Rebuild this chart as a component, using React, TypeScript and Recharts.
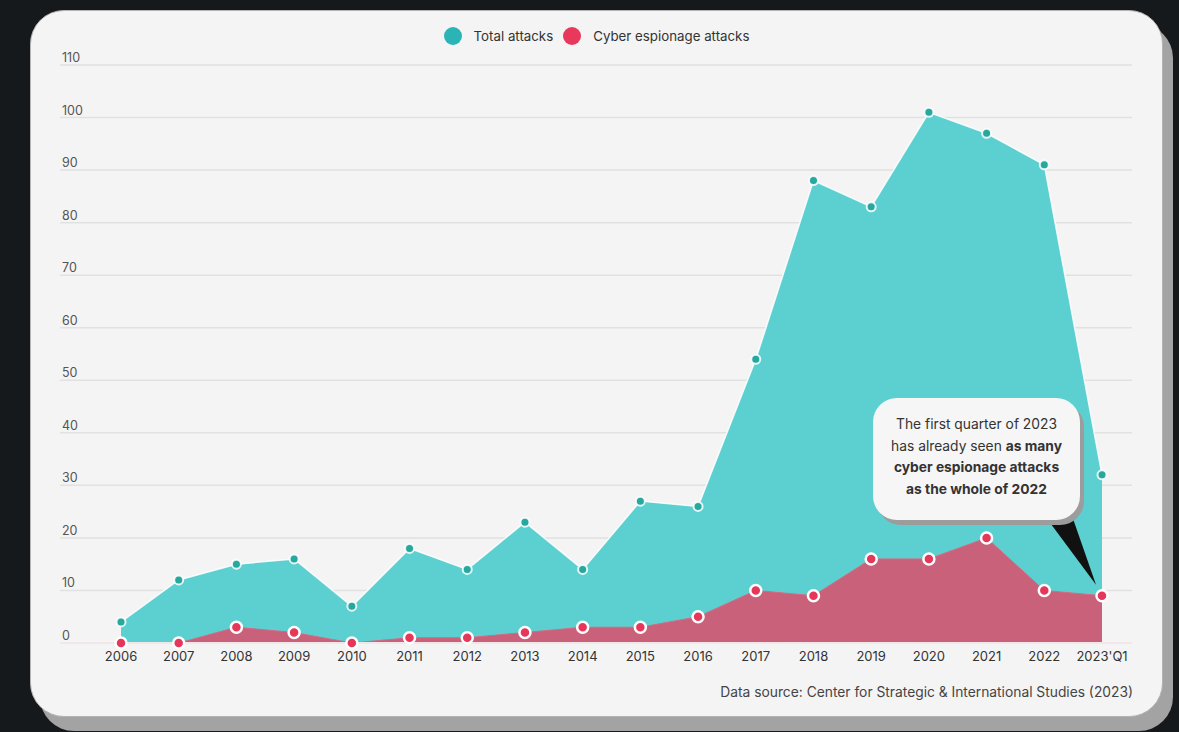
import React from 'react';
import { AreaChart, Area, XAxis, YAxis, CartesianGrid, ReferenceDot } from 'recharts';

const years = ['2006', '2007', '2008', '2009', '2010', '2011', '2012', '2013', '2014', '2015', '2016', '2017', '2018', '2019', '2020', '2021', '2022', "2023'Q1"];
const totalAttacks = [4, 12, 15, 16, 7, 18, 14, 23, 14, 27, 26, 54, 88, 83, 101, 97, 91, 32];
const espionageAttacks = [0, 0, 3, 2, 0, 1, 1, 2, 3, 3, 5, 10, 9, 16, 16, 20, 10, 9];
const yTicks = [0, 10, 20, 30, 40, 50, 60, 70, 80, 90, 100, 110];

const seriesNames = ['Total attacks', 'Cyber espionage attacks'];
const legendColors = ['#2bb4b6', '#e8385b'];

const data = years.map((year, i) => ({
  year,
  total: totalAttacks[i],
  espionage: espionageAttacks[i],
}));

const FONT = 'Inter, "Noto Sans", Arial, sans-serif';

const YTick = (props: any) => {
  const { y, payload } = props;
  return (
    <text x={62} y={y - 3} fill="#555" fontSize={12.5} fontFamily={FONT} textAnchor="start">
      {payload.value}
    </text>
  );
};

const Pointer = (props: any) => {
  const { cx, cy } = props;
  if (cx == null || cy == null) return null;
  return (
    <polygon
      points={`${cx - 52},${cy - 73} ${cx - 29},${cy - 77} ${cx - 6},${cy - 11}`}
      fill="#111"
    />
  );
};

export default function App() {
  return (
    <div
      style={{
        position: 'absolute',
        left: 0,
        top: 0,
        width: 1179,
        height: 732,
        background: '#16191c',
        overflow: 'hidden',
        fontFamily: FONT,
      }}
    >
      <div
        style={{
          position: 'absolute',
          left: 30,
          top: 10,
          width: 1133,
          height: 707,
          boxSizing: 'border-box',
          borderRadius: 34,
          background: '#f4f4f4',
          border: '1.5px solid #b3b3b3',
          boxShadow: '10px 14px 0 #a3a3a3',
        }}
      >
        <div
          style={{
            position: 'absolute',
            top: 16,
            left: 0,
            right: 0,
            display: 'flex',
            justifyContent: 'center',
            alignItems: 'center',
            fontSize: 13.3,
            color: '#333',
          }}
        >
          {seriesNames.map((name, i) => (
            <div key={name} style={{ display: 'flex', alignItems: 'center', marginRight: i === 0 ? 10 : 0 }}>
              <span
                style={{
                  display: 'inline-block',
                  width: 18,
                  height: 18,
                  borderRadius: 9,
                  background: legendColors[i],
                  marginRight: 12,
                }}
              />
              <span>{name}</span>
            </div>
          ))}
        </div>
      </div>

      <div style={{ position: 'absolute', left: 0, top: 0 }}>
        <AreaChart
          width={1179}
          height={732}
          data={data}
          margin={{ top: 65, right: 47, bottom: 59, left: 0 }}
        >
          <CartesianGrid vertical={false} stroke="#e1e1e1" strokeWidth={1.5} />
          <XAxis
            dataKey="year"
            height={30}
            interval={0}
            padding={{ left: 61, right: 30 }}
            axisLine={{ stroke: '#f3e6e9', strokeWidth: 2 }}
            tickLine={false}
            tickMargin={3}
            tick={{ fill: '#333', fontSize: 13, fontFamily: FONT }}
          />
          <YAxis
            width={60}
            domain={[0, 110]}
            ticks={yTicks}
            axisLine={false}
            tickLine={false}
            tick={<YTick />}
          />
          <Area
            type="linear"
            dataKey="total"
            fill="#5ccfd0"
            fillOpacity={1}
            stroke="#ffffff"
            strokeOpacity={0.85}
            strokeWidth={1.5}
            dot={{ r: 4.5, fill: '#27a89f', stroke: '#ffffff', strokeWidth: 2 }}
            activeDot={false}
            isAnimationActive={false}
          />
          <Area
            type="linear"
            dataKey="espionage"
            fill="#c9617a"
            fillOpacity={1}
            stroke="#d46a83"
            strokeWidth={1}
            dot={{ r: 5.5, fill: '#e6375a', stroke: '#ffffff', strokeWidth: 2.5, fillOpacity: 1 }}
            activeDot={false}
            isAnimationActive={false}
          />
          <ReferenceDot
            x={years[years.length - 1]}
            y={espionageAttacks[espionageAttacks.length - 1]}
            r={0}
            ifOverflow="visible"
            shape={<Pointer />}
          />
        </AreaChart>
      </div>

      <div
        style={{
          position: 'absolute',
          left: 873,
          top: 398,
          width: 207,
          height: 122,
          boxSizing: 'border-box',
          borderRadius: 24,
          background: '#f6f6f6',
          boxShadow: '4px 5px 0 #9c9c9c',
          paddingTop: 16,
          textAlign: 'center',
          fontSize: 13.8,
          lineHeight: '21.7px',
          color: '#333',
          whiteSpace: 'nowrap',
        }}
      >
        <div>The first quarter of 2023</div>
        <div>
          has already seen <b>as many</b>
        </div>
        <div>
          <b>cyber espionage attacks</b>
        </div>
        <div>
          <b>as the whole of 2022</b>
        </div>
      </div>

      <div
        style={{
          position: 'absolute',
          right: 46,
          top: 684,
          fontSize: 13.8,
          lineHeight: '16px',
          color: '#444',
          whiteSpace: 'nowrap',
        }}
      >
        Data source: Center for Strategic &amp; International Studies (2023)
      </div>
    </div>
  );
}
